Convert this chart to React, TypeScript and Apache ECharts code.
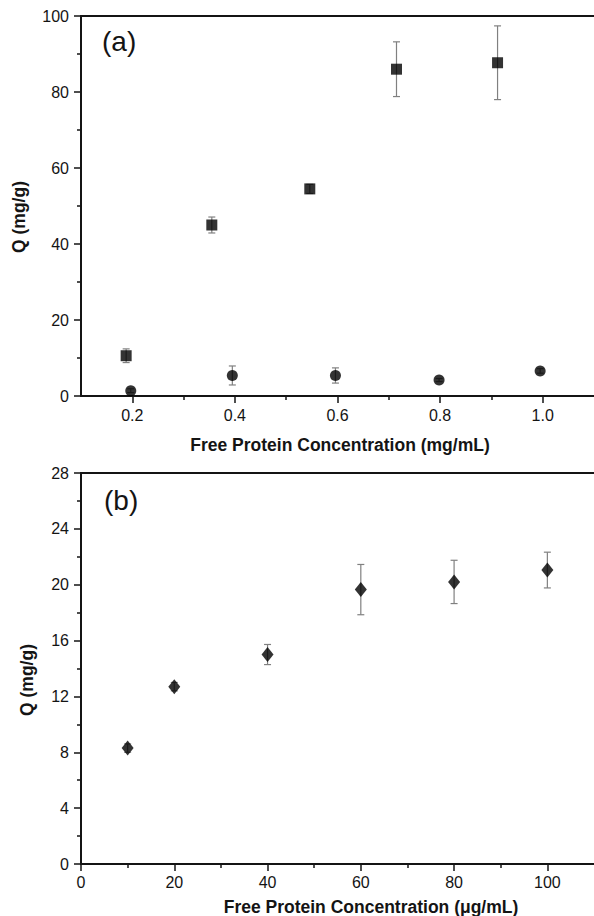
import React, { useEffect, useRef } from "react";
import * as echarts from "echarts";

// Panel (a)
const aSquareX = [0.188, 0.355, 0.546, 0.715, 0.912];
const aSquareY = [10.6, 45.0, 54.5, 86.0, 87.7];
const aSquareErr = [1.8, 2.1, 1.2, 7.2, 9.7];
const aCircleX = [0.197, 0.395, 0.596, 0.798, 0.995];
const aCircleY = [1.4, 5.4, 5.4, 4.2, 6.6];
const aCircleErr = [0.5, 2.5, 2.0, 0.4, 0.6];
const aXTicks = [0.2, 0.4, 0.6, 0.8, 1.0];
const aXMinorTicks = [0.3, 0.5, 0.7, 0.9];

// Panel (b)
const bX = [10, 20, 40, 60, 80, 100];
const bY = [8.3, 12.7, 15.0, 19.65, 20.2, 21.05];
const bErr = [0.3, 0.3, 0.72, 1.8, 1.55, 1.28];
const bXTicks = [0, 20, 40, 60, 80, 100];
const bXMinorTicks = [10, 30, 50, 70, 90];

const FONT = "'Liberation Sans', Arial, Helvetica, sans-serif";
const INK = "#141414";
const ERR = "#808080";

function errSeries(xs: number[], ys: number[], es: number[], gi: number) {
  return {
    type: "custom",
    xAxisIndex: gi,
    yAxisIndex: gi,
    z: 1,
    silent: true,
    encode: { x: 0, y: [1, 2] },
    data: xs.map((x, i) => [x, ys[i] - es[i], ys[i] + es[i]]),
    renderItem: (params: any, api: any) => {
      const x = api.value(0);
      const p1 = api.coord([x, api.value(2)]);
      const p2 = api.coord([x, api.value(1)]);
      const c = 3.5;
      const st = { stroke: ERR, lineWidth: 1.2 };
      return {
        type: "group",
        children: [
          { type: "line", shape: { x1: p1[0], y1: p1[1], x2: p2[0], y2: p2[1] }, style: st },
          { type: "line", shape: { x1: p1[0] - c, y1: p1[1], x2: p1[0] + c, y2: p1[1] }, style: st },
          { type: "line", shape: { x1: p2[0] - c, y1: p2[1], x2: p2[0] + c, y2: p2[1] }, style: st },
        ],
      };
    },
  };
}

export default function App() {
  const ref = useRef<HTMLDivElement>(null);
  useEffect(() => {
    if (!ref.current) return;
    const chart = echarts.init(ref.current, undefined, { renderer: "svg" });
    const axisLine = { show: true, onZero: false, lineStyle: { color: INK, width: 2 } };
    const labelStyle = { color: INK, fontSize: 16, fontFamily: FONT };
    const tickStyle = { color: INK, width: 1.5 };
    const frameTop = (gi: number, min: number, max: number) => ({
      gridIndex: gi, type: "value", min, max, position: "top",
      axisLine,
      axisTick: { show: false },
      axisLabel: { show: false },
      splitLine: { show: false },
    });
    const option: any = {
      animation: false,
      backgroundColor: "#ffffff",
      grid: [
        { left: 81, top: 16, width: 520, height: 380 },
        { left: 81, top: 473, width: 523, height: 391 },
        { left: 81, top: 16, width: 520, height: 380 },
        { left: 81, top: 473, width: 523, height: 391 },
      ],
      xAxis: [
        {
          gridIndex: 0, type: "value", min: 0.1, max: 1.1, position: "bottom",
          axisLine,
          axisTick: { show: true, customValues: aXTicks, length: 7, lineStyle: tickStyle },
          axisLabel: { show: true, customValues: aXTicks, formatter: (v: number) => v.toFixed(1), margin: 11, ...labelStyle },
          splitLine: { show: false },
        },
        {
          gridIndex: 1, type: "value", min: 0, max: 110, position: "bottom",
          axisLine,
          axisTick: { show: true, customValues: bXTicks, length: 7, lineStyle: tickStyle },
          axisLabel: { show: true, customValues: bXTicks, margin: 10, ...labelStyle },
          splitLine: { show: false },
        },
        {
          gridIndex: 2, type: "value", min: 0.1, max: 1.1, position: "bottom",
          axisLine: { show: false },
          axisTick: { show: true, customValues: aXMinorTicks, length: 4, lineStyle: tickStyle },
          axisLabel: { show: false },
          splitLine: { show: false },
        },
        {
          gridIndex: 3, type: "value", min: 0, max: 110, position: "bottom",
          axisLine: { show: false },
          axisTick: { show: true, customValues: bXMinorTicks, length: 4, lineStyle: tickStyle },
          axisLabel: { show: false },
          splitLine: { show: false },
        },
        frameTop(0, 0.1, 1.1),
        frameTop(1, 0, 110),
      ],
      yAxis: [
        {
          gridIndex: 0, type: "value", min: 0, max: 100, interval: 20,
          axisLine,
          axisTick: { show: true, length: 7, lineStyle: tickStyle },
          minorTick: { show: true, splitNumber: 2, length: 4, lineStyle: tickStyle },
          axisLabel: { margin: 12, ...labelStyle },
          splitLine: { show: false },
          minorSplitLine: { show: false },
        },
        {
          gridIndex: 1, type: "value", min: 0, max: 28, interval: 4,
          axisLine,
          axisTick: { show: true, length: 7, lineStyle: tickStyle },
          minorTick: { show: true, splitNumber: 2, length: 4, lineStyle: tickStyle },
          axisLabel: { margin: 12, ...labelStyle },
          splitLine: { show: false },
          minorSplitLine: { show: false },
        },
        { gridIndex: 2, type: "value", min: 0, max: 100, show: false },
        { gridIndex: 3, type: "value", min: 0, max: 28, show: false },
      ],
      series: [
        errSeries(aSquareX, aSquareY, aSquareErr, 0),
        errSeries(aCircleX, aCircleY, aCircleErr, 0),
        errSeries(bX, bY, bErr, 1),
        {
          type: "scatter", xAxisIndex: 0, yAxisIndex: 0, z: 3,
          symbol: "rect", symbolSize: 11,
          itemStyle: { color: "#000" },
          data: aSquareX.map((x, i) => [x, aSquareY[i]]),
        },
        {
          type: "scatter", xAxisIndex: 0, yAxisIndex: 0, z: 3,
          symbol: "circle", symbolSize: 11,
          itemStyle: { color: "#000" },
          data: aCircleX.map((x, i) => [x, aCircleY[i]]),
        },
        {
          type: "scatter", xAxisIndex: 1, yAxisIndex: 1, z: 3,
          symbol: "diamond", symbolSize: [12, 15],
          itemStyle: { color: "#000" },
          data: bX.map((x, i) => [x, bY[i]]),
        },
      ],
      graphic: [
        { type: "text", left: 102, top: 27, style: { text: "(a)", font: `28px ${FONT}`, fill: INK } },
        { type: "text", left: 104, top: 486, style: { text: "(b)", font: `28px ${FONT}`, fill: INK } },
        {
          type: "text", x: 19, y: 217, rotation: Math.PI / 2,
          style: { text: "Q (mg/g)", font: `bold 17.5px ${FONT}`, fill: INK, align: "center", verticalAlign: "middle" },
        },
        {
          type: "text", x: 27, y: 680, rotation: Math.PI / 2,
          style: { text: "Q (mg/g)", font: `bold 17.5px ${FONT}`, fill: INK, align: "center", verticalAlign: "middle" },
        },
        {
          type: "text", x: 340, y: 445,
          style: { text: "Free Protein Concentration (mg/mL)", font: `bold 17.5px ${FONT}`, fill: INK, align: "center", verticalAlign: "middle" },
        },
        {
          type: "text", x: 371, y: 907,
          style: { text: "Free Protein Concentration (\u03bcg/mL)", font: `bold 17.5px ${FONT}`, fill: INK, align: "center", verticalAlign: "middle" },
        },
      ],
    };
    chart.setOption(option);
    return () => chart.dispose();
  }, []);
  return (
    <div
      ref={ref}
      style={{ position: "absolute", left: 0, top: 0, width: 594, height: 916, background: "#fff" }}
    />
  );
}
